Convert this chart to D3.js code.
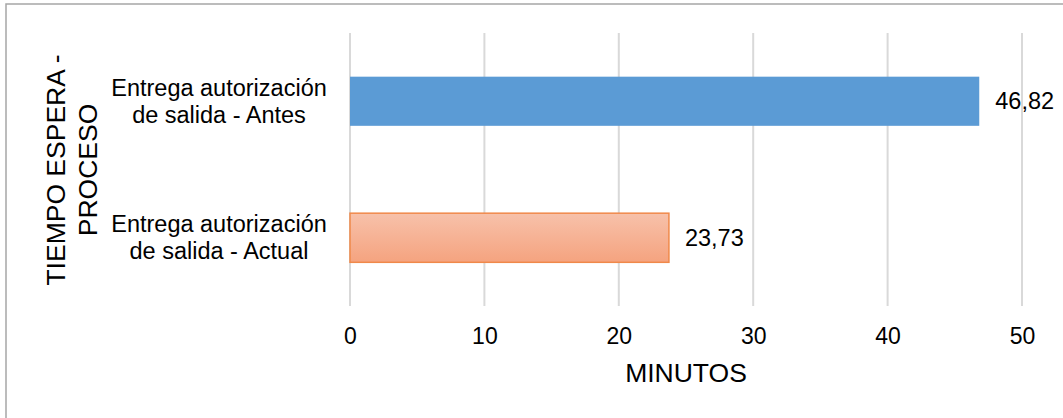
<!DOCTYPE html>
<html>
<head>
<meta charset="utf-8">
<script src="https://cdn.jsdelivr.net/npm/d3@7"></script>
<style>
  html, body { margin: 0; padding: 0; background: #ffffff; }
  svg { display: block; font-family: "Liberation Sans", Arial, sans-serif; }
</style>
</head>
<body>
<svg id="chart" width="1063" height="418"></svg>
<script>
// Waiting time per process, in minutes
const categories = [
  ["Entrega autorización", "de salida - Antes"],
  ["Entrega autorización", "de salida - Actual"]
];
const values = [46.82, 23.73];
const valueLabels = ["46,82", "23,73"];
const tickValues = [0, 10, 20, 30, 40, 50];
const xTitle = "MINUTOS";
const yTitle = ["TIEMPO ESPERA -", "PROCESO"];

const svg = d3.select("#chart");
const W = 1063, H = 418;
const plot = { left: 350, right: 1022, top: 33, bottom: 306 };

// Chart frame
svg.append("rect")
  .attr("x", 6).attr("y", 4)
  .attr("width", W + 10).attr("height", H + 10)
  .attr("fill", "#ffffff")
  .attr("stroke", "#a6a6a6")
  .attr("stroke-width", 1.5);

const x = d3.scaleLinear().domain([0, 50]).range([plot.left, plot.right]);
const y = d3.scaleBand()
  .domain(d3.range(categories.length))
  .range([plot.top, plot.bottom])
  .paddingInner(0.64)
  .paddingOuter(0.32);

// Gradient fill for the second bar
const defs = svg.append("defs");
const grad = defs.append("linearGradient")
  .attr("id", "actualFill")
  .attr("x1", 0).attr("y1", 0).attr("x2", 0).attr("y2", 1);
grad.append("stop").attr("offset", "0%").attr("stop-color", "#f7c1aa");
grad.append("stop").attr("offset", "100%").attr("stop-color", "#f5a37f");

// Vertical gridlines
svg.append("g")
  .selectAll("line")
  .data(tickValues)
  .join("line")
  .attr("x1", d => x(d)).attr("x2", d => x(d))
  .attr("y1", plot.top).attr("y2", plot.bottom)
  .attr("stroke", "#d9d9d9")
  .attr("stroke-width", 2);

// X axis tick labels
const xAxis = d3.axisBottom(x).tickValues(tickValues).tickSize(0).tickPadding(0)
  .tickFormat(d3.format("d"));
const gx = svg.append("g").attr("transform", `translate(0, ${plot.bottom})`).call(xAxis);
gx.select(".domain").remove();
gx.selectAll("text")
  .attr("y", 38).attr("dy", null)
  .attr("font-size", 23)
  .attr("font-family", "Liberation Sans, Arial, sans-serif")
  .attr("fill", "#000000");

// Bars
svg.append("g")
  .selectAll("rect")
  .data(values)
  .join("rect")
  .attr("x", x(0))
  .attr("y", (d, i) => y(i))
  .attr("width", d => x(d) - x(0))
  .attr("height", y.bandwidth())
  .attr("fill", (d, i) => i === 0 ? "#5b9bd5" : "url(#actualFill)")
  .attr("stroke", (d, i) => i === 0 ? "none" : "#f0894a")
  .attr("stroke-width", 1.5);

// Value labels
svg.append("g")
  .selectAll("text")
  .data(values)
  .join("text")
  .attr("x", d => x(d) + 16)
  .attr("y", (d, i) => y(i) + y.bandwidth() / 2)
  .attr("dy", "0.35em")
  .attr("font-size", 23.5)
  .attr("fill", "#000000")
  .text((d, i) => valueLabels[i]);

// Category labels (two lines, centred)
const catG = svg.append("g");
categories.forEach((lines, i) => {
  const cy = y(i) + y.bandwidth() / 2;
  const t = catG.append("text")
    .attr("x", 219)
    .attr("text-anchor", "middle")
    .attr("font-size", 23.5)
    .attr("fill", "#000000");
  lines.forEach((ln, j) => {
    t.append("tspan")
      .attr("x", 219)
      .attr("y", cy - 5.5 + j * 27)
      .text(ln);
  });
});

// X axis title
svg.append("text")
  .attr("x", (plot.left + plot.right) / 2)
  .attr("y", 382)
  .attr("text-anchor", "middle")
  .attr("font-size", 26.5)
  .attr("fill", "#000000")
  .text(xTitle);

// Y axis title, rotated, two lines
const yt = svg.append("text")
  .attr("transform", "translate(0, 170) rotate(-90)")
  .attr("text-anchor", "middle")
  .attr("font-size", 26.5)
  .attr("fill", "#000000");
yTitle.forEach((ln, j) => {
  yt.append("tspan")
    .attr("x", 0)
    .attr("y", 65 + j * 32)
    .text(ln);
});
</script>
</body>
</html>
